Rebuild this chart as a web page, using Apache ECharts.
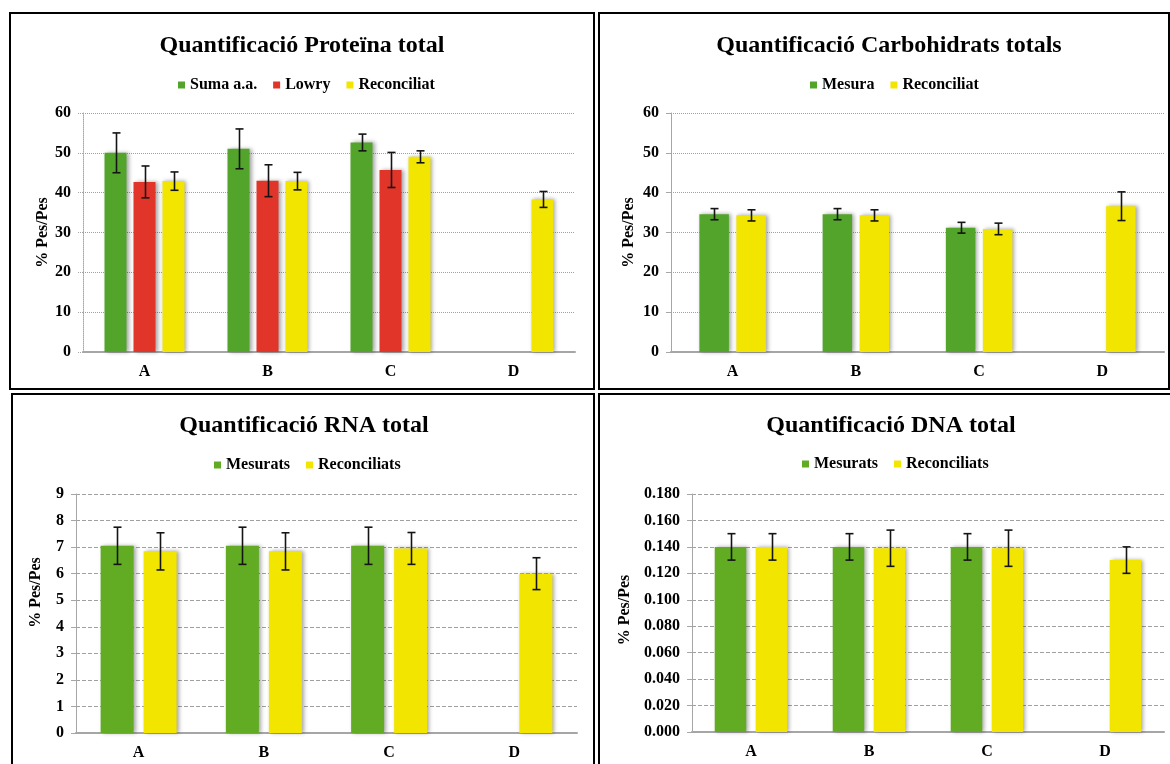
<!DOCTYPE html>
<html>
<head>
<meta charset="utf-8">
<script src="https://cdn.jsdelivr.net/npm/echarts@6/dist/echarts.min.js"></script>
<style>
html,body{margin:0;padding:0;background:#fff;}
#c{width:1170px;height:764px;}
</style>
</head>
<body>
<div id="c"></div>
<script>
// ---------- DATA ----------
const categories = ['A', 'B', 'C', 'D'];

// Panel 1: Proteïna
const protTitle = 'Quantificació Proteïna total';
const protNames = ['Suma a.a.', 'Lowry', 'Reconciliat'];
const protSuma = [50.0, 51.0, 52.6, null];
const protSumaErr = [5.0, 5.0, 2.1, null];
const protLowry = [42.7, 43.0, 45.7, null];
const protLowryErr = [4.0, 4.0, 4.4, null];
const protRec = [42.9, 42.9, 49.0, 38.3];
const protRecErr = [2.3, 2.2, 1.5, 2.0];
const protTicks = [0, 10, 20, 30, 40, 50, 60];

// Panel 2: Carbohidrats
const carbTitle = 'Quantificació Carbohidrats totals';
const carbNames = ['Mesura', 'Reconciliat'];
const carbMes = [34.6, 34.6, 31.2, null];
const carbMesErr = [1.4, 1.4, 1.35, null];
const carbRec = [34.3, 34.3, 30.9, 36.6];
const carbRecErr = [1.4, 1.4, 1.45, 3.6];
const carbTicks = [0, 10, 20, 30, 40, 50, 60];

// Panel 3: RNA
const rnaTitle = 'Quantificació RNA total';
const rnaNames = ['Mesurats', 'Reconciliats'];
const rnaMes = [7.05, 7.05, 7.05, null];
const rnaMesErr = [0.7, 0.7, 0.7, null];
const rnaRec = [6.84, 6.84, 6.95, 6.0];
const rnaRecErr = [0.7, 0.7, 0.6, 0.6];
const rnaTicks = [0, 1, 2, 3, 4, 5, 6, 7, 8, 9];

// Panel 4: DNA
const dnaTitle = 'Quantificació DNA total';
const dnaNames = ['Mesurats', 'Reconciliats'];
const dnaMes = [0.140, 0.140, 0.140, null];
const dnaMesErr = [0.010, 0.010, 0.010, null];
const dnaRec = [0.140, 0.139, 0.139, 0.130];
const dnaRecErr = [0.010, 0.0137, 0.0137, 0.010];
const dnaTicks = [0, 0.02, 0.04, 0.06, 0.08, 0.10, 0.12, 0.14, 0.16, 0.18];

const yName = '% Pes/Pes';

// ---------- STYLE ----------
const FONT = "'Liberation Serif', 'Times New Roman', serif";
const GREEN1 = '#52A52A', GREEN2 = '#62AC24', RED = '#E2352A', YELLOW = '#F2E500';
const AXIS_GRAY = '#A6A6A6';

const chart = echarts.init(document.getElementById('c'), null, {renderer: 'canvas'});

const panels = [
  {title: protTitle, tx: 302, ty: 34, names: protNames, lx: 178, ly: 77,
   grid: {left: 83, top: 113, width: 492, height: 239},
   ticks: protTicks, dec: 0, split: 'dotted', yDotted: true, nameGap: 32, namePad: 0,
   bw: 22, gap: 7,
   series: [[protSuma, protSumaErr, GREEN1], [protLowry, protLowryErr, RED], [protRec, protRecErr, YELLOW]]},
  {title: carbTitle, tx: 889, ty: 34, names: carbNames, lx: 810, ly: 77,
   grid: {left: 671, top: 113, width: 493, height: 239},
   ticks: carbTicks, dec: 0, split: 'dotted', yDotted: false, nameGap: 34, namePad: 0,
   bw: 29.5, gap: 7.5,
   series: [[carbMes, carbMesErr, GREEN1], [carbRec, carbRecErr, YELLOW]]},
  {title: rnaTitle, tx: 304, ty: 414, names: rnaNames, lx: 214, ly: 457,
   grid: {left: 76, top: 494, width: 501, height: 239},
   ticks: rnaTicks, dec: 0, split: [4, 2], yDotted: false, nameGap: 32, namePad: 42,
   bw: 33, gap: 10,
   series: [[rnaMes, rnaMesErr, GREEN2], [rnaRec, rnaRecErr, YELLOW]]},
  {title: dnaTitle, tx: 891, ty: 414, names: dnaNames, lx: 802, ly: 456,
   grid: {left: 692, top: 494, width: 472, height: 238},
   ticks: dnaTicks, dec: 3, split: [4, 2], yDotted: false, nameGap: 59, namePad: 6,
   bw: 31.5, gap: 9.5,
   series: [[dnaMes, dnaMesErr, GREEN2], [dnaRec, dnaRecErr, YELLOW]]}
];

function errRenderer(offset) {
  return function (params, api) {
    const ci = api.value(0);
    const pLo = api.coord([ci, api.value(1)]);
    const pHi = api.coord([ci, api.value(2)]);
    const cx = Math.round(pLo[0] + offset) + 0.5;
    const st = {stroke: '#141414', lineWidth: 1.6};
    return {type: 'group', children: [
      {type: 'line', shape: {x1: cx, y1: pHi[1], x2: cx, y2: pLo[1]}, style: st},
      {type: 'line', shape: {x1: cx - 4, y1: pHi[1], x2: cx + 4, y2: pHi[1]}, style: st},
      {type: 'line', shape: {x1: cx - 4, y1: pLo[1], x2: cx + 4, y2: pLo[1]}, style: st}
    ]};
  };
}

const option = {
  backgroundColor: '#fff',
  animation: false,
  title: [], legend: [], grid: [], xAxis: [], yAxis: [], series: [],
  graphic: [
    {type: 'rect', shape: {x: 10, y: 13, width: 584, height: 376}, style: {fill: 'none', stroke: '#000', lineWidth: 2}},
    {type: 'rect', shape: {x: 599, y: 13, width: 570, height: 376}, style: {fill: 'none', stroke: '#000', lineWidth: 2}},
    {type: 'rect', shape: {x: 12, y: 394, width: 582, height: 390}, style: {fill: 'none', stroke: '#000', lineWidth: 2}},
    {type: 'rect', shape: {x: 599, y: 394, width: 590, height: 390}, style: {fill: 'none', stroke: '#000', lineWidth: 2}}
  ]
};

panels.forEach((p, k) => {
  option.title.push({
    text: p.title, left: p.tx, top: p.ty, textAlign: 'center', padding: 0,
    textStyle: {fontFamily: FONT, fontWeight: 'bold', fontSize: 24, color: '#000'}
  });
  option.legend.push({
    data: p.names, left: p.lx, top: p.ly, orient: 'horizontal', padding: 0,
    icon: 'rect', itemWidth: 7, itemHeight: 7, itemGap: 16, selectedMode: false,
    textStyle: {fontFamily: FONT, fontWeight: 'bold', fontSize: 16, color: '#000'}
  });
  option.grid.push(Object.assign({containLabel: false}, p.grid));
  option.xAxis.push({
    type: 'category', gridIndex: k, data: categories,
    axisLine: {show: true, lineStyle: {color: AXIS_GRAY, width: 2}},
    axisTick: {show: false},
    axisLabel: {fontFamily: FONT, fontWeight: 'bold', fontSize: 16, color: '#000', margin: 12},
    splitLine: {show: false}
  });
  const tmin = p.ticks[0], tmax = p.ticks[p.ticks.length - 1];
  option.yAxis.push({
    type: 'value', gridIndex: k, min: tmin, max: tmax, interval: p.ticks[1] - p.ticks[0],
    name: yName, nameLocation: 'middle', nameGap: p.nameGap, nameRotate: 90,
    nameTextStyle: {fontFamily: FONT, fontWeight: 'bold', fontSize: 16, color: '#000', padding: [0, 0, 0, p.namePad]},
    axisLine: {show: true, lineStyle: {color: AXIS_GRAY, width: 1, type: p.yDotted ? 'dotted' : 'solid'}},
    axisTick: {show: true, length: 5, inside: false, lineStyle: {color: AXIS_GRAY, type: p.yDotted ? 'dotted' : 'solid'}},
    axisLabel: {fontFamily: FONT, fontWeight: 'bold', fontSize: 16, color: '#000', margin: 12,
      formatter: v => v.toFixed(p.dec)},
    splitLine: {show: true, lineStyle: {color: '#A0A0A0', width: 1, type: p.split}}
  });
  const n = p.series.length;
  p.series.forEach((s, i) => {
    const [vals, errs, color] = s;
    option.series.push({
      type: 'bar', name: p.names[i], xAxisIndex: k, yAxisIndex: k,
      data: vals, barWidth: p.bw, barGap: (p.gap / p.bw * 100).toFixed(1) + '%',
      itemStyle: {color: color, shadowColor: 'rgba(0,0,0,0.35)', shadowBlur: 4, shadowOffsetX: 2, shadowOffsetY: 0},
      z: 2
    });
    const errData = [];
    vals.forEach((v, ci) => { if (v != null) errData.push([ci, v - errs[ci], v + errs[ci]]); });
    const offset = (i - (n - 1) / 2) * (p.bw + p.gap);
    option.series.push({
      type: 'custom', name: '_err' + k + '_' + i, xAxisIndex: k, yAxisIndex: k,
      data: errData, encode: {x: 0, y: [1, 2]},
      renderItem: errRenderer(offset), z: 5, silent: true
    });
  });
});

chart.setOption(option);
</script>
</body>
</html>
